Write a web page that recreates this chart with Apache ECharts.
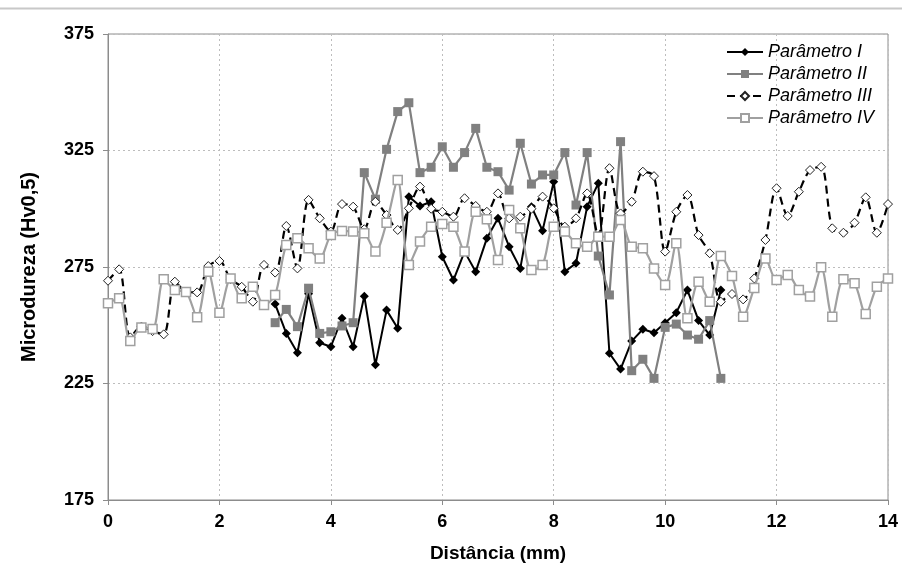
<!DOCTYPE html>
<html>
<head>
<meta charset="utf-8">
<script src="https://cdn.jsdelivr.net/npm/echarts@6/dist/echarts.min.js"></script>
<style>
html,body{margin:0;padding:0;background:#fff;}
#chart{width:902px;height:572px;}
</style>
</head>
<body>
<div id="chart"></div>
<script>
// Distances (mm)
const distFull = [0.0,0.2,0.4,0.6,0.8,1.0,1.2,1.4,1.6,1.8,2.0,2.2,2.4,2.6,2.8,3.0,3.2,3.4,3.6,3.8,4.0,4.2,4.4,4.6,4.8,5.0,5.2,5.4,5.6,5.8,6.0,6.2,6.4,6.6,6.8,7.0,7.2,7.4,7.6,7.8,8.0,8.2,8.4,8.6,8.8,9.0,9.2,9.4,9.6,9.8,10.0,10.2,10.4,10.6,10.8,11.0,11.2,11.4,11.6,11.8,12.0,12.2,12.4,12.6,12.8,13.0,13.2,13.4,13.6,13.8,14.0];
const distMid = [3.0,3.2,3.4,3.6,3.8,4.0,4.2,4.4,4.6,4.8,5.0,5.2,5.4,5.6,5.8,6.0,6.2,6.4,6.6,6.8,7.0,7.2,7.4,7.6,7.8,8.0,8.2,8.4,8.6,8.8,9.0,9.2,9.4,9.6,9.8,10.0,10.2,10.4,10.6,10.8,11.0];

const param1 = [259.1,246.5,238.2,263.5,242.5,240.8,253,240.8,262.5,233,
 256.5,248.7,305.2,301.2,303,279.4,269.4,281.6,273,287.3,
 295.9,283.7,274.4,300.9,290.6,311.6,273,276.6,300.9,310.9,
 238,231.2,243.2,248.3,246.8,251.1,255.4,265.1,252,245.8,265.1];
const param2 = [251.1,256.8,249.4,265.9,246.5,247.2,249.7,251.1,315.5,304.1,
 325.5,341.7,345.5,315.5,317.8,326.6,317.8,324.1,334.5,317.8,
 315.9,308,328.1,310.6,314.5,314.5,324.1,301.6,324.1,279.7,
 263,328.8,230.5,235.4,227.2,249.1,250.5,245.8,244,252,227.2];
const param3 = [269.1,274,244.8,249.4,247.5,246.1,268.7,264.4,264.1,275.4,
 277.6,269.8,266.5,260.1,275.9,272.6,292.6,274.4,303.8,295.9,
 290.2,302,300.9,291.2,303,297.3,290.9,300.2,309.5,300,
 298.7,296.6,304.5,301.2,298.7,306.6,295.9,296.6,300,305.2,
 300.2,292.3,295.9,306.6,288.3,317.4,298,303,315.9,314,
 281.6,298.7,305.9,288.7,280.9,260.1,263.4,261.1,270.1,286.6,
 308.8,296.9,307.3,316.6,318,291.6,289.7,294,304.9,289.7,302];
const param4 = [259.4,261.6,243.2,249,248.4,269.7,265.1,264.3,253.4,273,
 255.4,270.1,261.6,266.5,258.7,263,284.4,287.3,283,278.7,
 288.7,290.5,290.2,289.5,281.6,294,312.3,275.9,285.9,292.3,
 293.5,292.3,281.6,298.7,295.5,278,299.5,291.6,273.7,275.9,
 292.3,290.2,285.2,283.7,288,288,295.2,283.7,283,274.4,
 267.3,285.2,253,268.7,260.1,279.7,271.1,253.7,266,278.7,
 269.4,271.6,265.1,262.3,274.9,253.7,269.7,268,254.8,266.5,270.1];

const seriesNames = ['Parâmetro I','Parâmetro II','Parâmetro III','Parâmetro IV'];
const xTitle = 'Distância (mm)';
const yTitle = 'Microdureza (Hv0,5)';

function pairs(xs, ys){ return ys.map((v,i)=>[xs[i], v]); }

const FONT = '"Liberation Sans", Arial, sans-serif';
const chart = echarts.init(document.getElementById('chart'), null, {renderer:'canvas'});
chart.setOption({
  backgroundColor:'#fff',
  animation:false,
  textStyle:{fontFamily:FONT},
  graphic:[
    {type:'line', shape:{x1:0,y1:8.5,x2:902,y2:8.5}, style:{stroke:'#c8c8c8', lineWidth:2}, silent:true}
  ],
  grid:{left:108, right:14, top:34, bottom:72, show:true, borderColor:'#8c8c8c', borderWidth:1, backgroundColor:'transparent'},
  legend:{
    orient:'vertical', left:721, top:38, itemWidth:36, itemHeight:10, itemGap:4,
    textStyle:{fontFamily:FONT, fontSize:18, fontStyle:'italic', color:'#000', lineHeight:18},
    data:seriesNames
  },
  xAxis:{
    type:'value', min:0, max:14, interval:2,
    name:xTitle, nameLocation:'middle', nameGap:44,
    nameTextStyle:{fontFamily:FONT, fontSize:19, fontWeight:'bold', color:'#000'},
    axisLine:{show:true, onZero:false, lineStyle:{color:'#8c8c8c', width:1}},
    axisTick:{show:true, length:5, lineStyle:{color:'#8c8c8c'}},
    axisLabel:{fontFamily:FONT, fontSize:18, fontWeight:'bold', color:'#000', margin:13},
    splitLine:{show:true, lineStyle:{color:'#bdbdbd', type:[2,3], width:1}}
  },
  yAxis:{
    type:'value', min:175, max:375, interval:50,
    name:yTitle, nameLocation:'middle', nameGap:69,
    nameTextStyle:{fontFamily:FONT, fontSize:20, fontWeight:'bold', color:'#000'},
    axisLine:{show:true, lineStyle:{color:'#8c8c8c', width:1}},
    axisTick:{show:true, length:5, lineStyle:{color:'#8c8c8c'}},
    axisLabel:{fontFamily:FONT, fontSize:18, fontWeight:'bold', color:'#000', margin:14},
    splitLine:{show:true, lineStyle:{color:'#bdbdbd', type:[2,3], width:1}}
  },
  series:[
    {name:seriesNames[0], type:'line', data:pairs(distMid,param1),
     symbol:'diamond', symbolSize:9,
     lineStyle:{color:'#000', width:2}, itemStyle:{color:'#000'}, z:3},
    {name:seriesNames[1], type:'line', data:pairs(distMid,param2),
     symbol:'rect', symbolSize:9,
     lineStyle:{color:'#808080', width:2.2}, itemStyle:{color:'#808080'}, z:4},
    {name:seriesNames[2], type:'line', data:pairs(distFull,param3),
     symbol:'diamond', symbolSize:9, smooth:0.3,
     lineStyle:{color:'#000', width:2.2, type:[8,5]},
     itemStyle:{color:'#fff', borderColor:'#222', borderWidth:1}, z:5},
    {name:seriesNames[3], type:'line', data:pairs(distFull,param4),
     symbol:'rect', symbolSize:9, smooth:0.3,
     lineStyle:{color:'#a0a0a0', width:2.2},
     itemStyle:{color:'#fff', borderColor:'#a0a0a0', borderWidth:1.5}, z:6}
  ]
});
</script>
</body>
</html>
